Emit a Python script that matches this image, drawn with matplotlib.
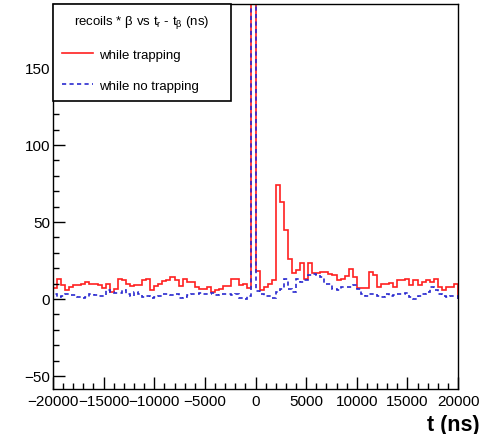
import numpy as np
import matplotlib
matplotlib.use('Agg')
import matplotlib.pyplot as plt
from matplotlib.ticker import MultipleLocator

plt.rcParams['font.family'] = ['Liberation Sans', 'DejaVu Sans']
plt.rcParams['mathtext.fontset'] = 'custom'
plt.rcParams['mathtext.rm'] = 'Liberation Sans'
plt.rcParams['mathtext.it'] = 'Liberation Sans'

# histogram: 100 bins from -20000 to 20000 ns
t_min, t_max, n_bins = -20000, 20000, 100

red = [7, 13, 9, 6, 8, 9, 9, 10, 11, 10,
       10, 9, 7, 10, 4.5, 6.5, 13, 12, 10, 8.5,
       9, 9, 12, 13, 5.5, 8.5, 10, 11.5, 12, 14,
       12, 8.5, 13, 11, 11, 7.5, 6.5, 6.5, 7.5, 4.5,
       6, 6.5, 8.5, 8.5, 13, 13, 9, 9.5, 7, 500,
       18, 6, 8, 10, 12, 74, 63, 45, 26, 17,
       18.5, 23, 13, 23, 17, 17, 17.5, 17.5, 16.4, 15.4,
       12, 13, 15, 19.7, 14.2, 7, 7, 7, 17.5, 15.4,
       8, 10, 10, 10.5, 7.7, 12, 12, 13, 9, 12,
       9, 11, 12, 11, 13, 8, 5.5, 7.5, 7.5, 10]

blue = [3.3, 1.5, 2, 3.3, 2.5, 2.5, 1.5, 0.8, 1.5, 3,
        2.5, 2, 2, 5.5, 4.5, 4, 4, 5.5, 3, 2,
        4.5, 3.5, 1, 2, 0.5, 1.5, 2, 3, 3.5, 2.5,
        3, 0.5, 1, 2.5, 3, 3.5, 4, 3.5, 3.5, 4,
        2.5, 3.5, 3, 3, 2.5, 3, 0.5, 0, 2, 480,
        5.3, 3.3, 2.2, 2.2, 0.5, 4.4, 6.6, 13.2, 6.6, 4.4,
        13, 11, 12, 15.4, 16.5, 15.4, 14, 10, 10, 6.6,
        5.5, 7.7, 7.7, 7.7, 8.8, 6.6, 3.3, 2.2, 3.3, 3.3,
        2.2, 1, 3.3, 2.2, 2.6, 3.3, 3.3, 3.7, 1, 0,
        2.2, 3.3, 4.4, 7.7, 5.5, 3.3, 1.8, 1, 2.2, 2.2]

labels = ['while trapping', 'while no trapping']
title = r'recoils * β vs t$_{r}$ - t$_{β}$ (ns)'

edges = np.linspace(t_min, t_max, n_bins + 1)

fig = plt.figure(figsize=(4.94, 4.35), dpi=100)
ax = fig.add_axes([53/494, 1 - 390/435, 405/494, 385/435])

ax.stairs(red, edges, color='#ff2020', lw=1.2, label=labels[0])
ax.stairs(blue, edges, color='#2a2ad0', lw=1.2, ls=(0, (2.5, 2)), label=labels[1])

ax.set_xlim(t_min, t_max)
ax.set_ylim(-58.5, 191.5)
ax.xaxis.set_major_locator(MultipleLocator(5000))
ax.xaxis.set_minor_locator(MultipleLocator(1000))
ax.yaxis.set_major_locator(MultipleLocator(50))
ax.yaxis.set_minor_locator(MultipleLocator(10))
ax.tick_params(which='both', direction='in', top=False, right=False, labelsize=11)
ax.tick_params(which='major', length=8.5, width=1)
ax.tick_params(which='minor', length=4.3, width=1)
ax.tick_params(axis='x', pad=3.5)
ax.tick_params(axis='y', pad=2)
for s in ax.spines.values():
    s.set_linewidth(1)

leg = ax.legend(title=title, loc='upper left', bbox_to_anchor=(0, 1, 0.44, 0),
                mode='expand', borderaxespad=0, fontsize=9.5, title_fontsize=9.5,
                fancybox=False, framealpha=1, edgecolor='black',
                handlelength=2.3, handletextpad=0.5, labelspacing=1.4, borderpad=0.7)
leg.get_frame().set_linewidth(1.2)

fig.text(480/494, 1 - 426/435, 't (ns)', ha='right', va='center',
         fontsize=15.5, fontweight='bold')

fig.savefig('out.png', dpi=100)
